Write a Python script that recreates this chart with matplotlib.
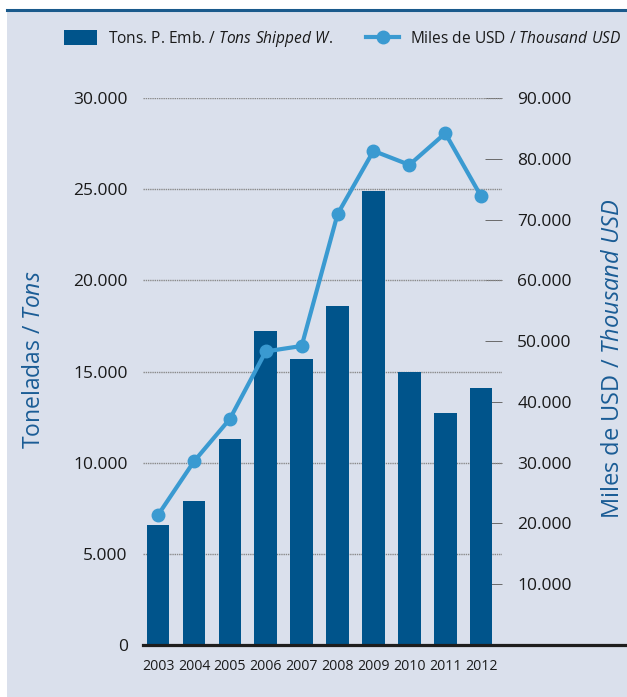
import matplotlib
matplotlib.use("Agg")
import matplotlib.pyplot as plt
from matplotlib.patches import Rectangle, Patch
from matplotlib.lines import Line2D

plt.rcParams['font.family'] = ['Open Sans', 'DejaVu Sans']
plt.rcParams['mathtext.fontset'] = 'custom'
plt.rcParams['mathtext.rm'] = 'Open Sans'
plt.rcParams['mathtext.it'] = 'Open Sans:italic'

# data
years = ['2003', '2004', '2005', '2006', '2007', '2008', '2009', '2010', '2011', '2012']
tons = [6600, 7900, 11300, 17200, 15700, 18600, 24900, 15000, 12700, 14100]
usd = [21400, 30200, 37200, 48300, 49200, 70900, 81300, 79000, 84200, 73800]

left_ticks = [0, 5000, 10000, 15000, 20000, 25000, 30000]
left_labels = ['0', '5.000', '10.000', '15.000', '20.000', '25.000', '30.000']
right_ticks = [10000, 20000, 30000, 40000, 50000, 60000, 70000, 80000, 90000]
right_labels = ['10.000', '20.000', '30.000', '40.000', '50.000', '60.000', '70.000', '80.000', '90.000']

panel = '#dae0ec'
bar_col = '#00548b'
line_col = '#3a9ad1'
lab_col = '#1a5c95'

W, H = 627, 697
fig = plt.figure(figsize=(W / 100, H / 100), dpi=100, facecolor='white')

# background panel and top rule
fig.patches.append(Rectangle((7 / W, 0), 1, 1 - 12 / H, transform=fig.transFigure,
                             facecolor=panel, edgecolor='none', zorder=0))
fig.add_artist(Line2D([7 / W, 1], [1 - 10 / H, 1 - 10 / H], transform=fig.transFigure,
                      color='#1a5a8c', lw=2.2))

rect = [143 / W, 1 - 645 / H, 359 / W, 547 / H]

# right axis (ticks + labels) sits under the bars
axr = fig.add_axes(rect, zorder=1)
axr.patch.set_visible(False)
axr.set_xticks([])
axr.yaxis.tick_right()
axr.set_ylim(0, 90000)
axr.set_yticks(right_ticks)
axr.set_yticklabels(right_labels)
axr.tick_params(axis='y', direction='in', length=12, width=0.7, color='#6a6a6a',
                pad=11, labelsize=12.5, labelcolor='#1a1a1a')
for s in axr.spines.values():
    s.set_visible(False)

# bars on left axis
ax = fig.add_axes(rect, zorder=2)
ax.patch.set_visible(False)
x = list(range(len(years)))
ax.bar(x, tons, width=0.63, color=bar_col, zorder=3)
ax.set_xlim(-0.42, 9.58)
ax.set_ylim(0, 30000)
ax.set_yticks(left_ticks)
ax.set_yticklabels(left_labels)
ax.set_xticks(x)
ax.set_xticklabels(years)
ax.tick_params(axis='y', length=0, pad=11, labelsize=12.5, labelcolor='#1a1a1a')
ax.tick_params(axis='x', length=0, pad=10, labelsize=10.2, labelcolor='#1a1a1a')
ax.set_axisbelow(True)
ax.yaxis.grid(True, color='#8a8a8a', lw=1.0, linestyle=(0, (1, 0.6)))
for s in ax.spines.values():
    s.set_visible(False)
ax.axhline(0, xmin=0, xmax=(W - 143) / 359, color='#1e1e1e', lw=2.3, clip_on=False, zorder=4)

# line on right scale, above bars
axl = fig.add_axes(rect, zorder=3)
axl.patch.set_visible(False)
axl.set_xlim(-0.42, 9.58)
axl.set_ylim(0, 90000)
axl.plot(x, usd, color=line_col, lw=3, marker='o', markersize=9, clip_on=False)
axl.axis('off')

# axis titles
fig.text(34 / W, 1 - 360 / H, r'Toneladas / $\mathit{Tons}$', rotation=90,
         ha='center', va='center', fontsize=16.5, color=lab_col)
fig.text(613 / W, 1 - 359 / H, r'Miles de USD / $\mathit{Thousand\ USD}$', rotation=90,
         ha='center', va='center', fontsize=17, color=lab_col)

# legend
handles = [Patch(facecolor=bar_col, edgecolor='none'),
           Line2D([], [], color=line_col, lw=3, marker='o', markersize=9)]
labels = [r'Tons. P. Emb. / $\mathit{Tons\ Shipped\ W.}$',
          r'Miles de USD / $\mathit{Thousand\ USD}$']
fig.legend(handles, labels, loc='center left', bbox_to_anchor=(64 / W, 1 - 39 / H),
           ncol=2, frameon=False, fontsize=11.2, borderpad=0, borderaxespad=0,
           handlelength=2.15, handleheight=1.05, handletextpad=0.7, columnspacing=2.1,
           labelcolor='#1a1a1a')

fig.savefig('out.png', dpi=100, facecolor='white')
